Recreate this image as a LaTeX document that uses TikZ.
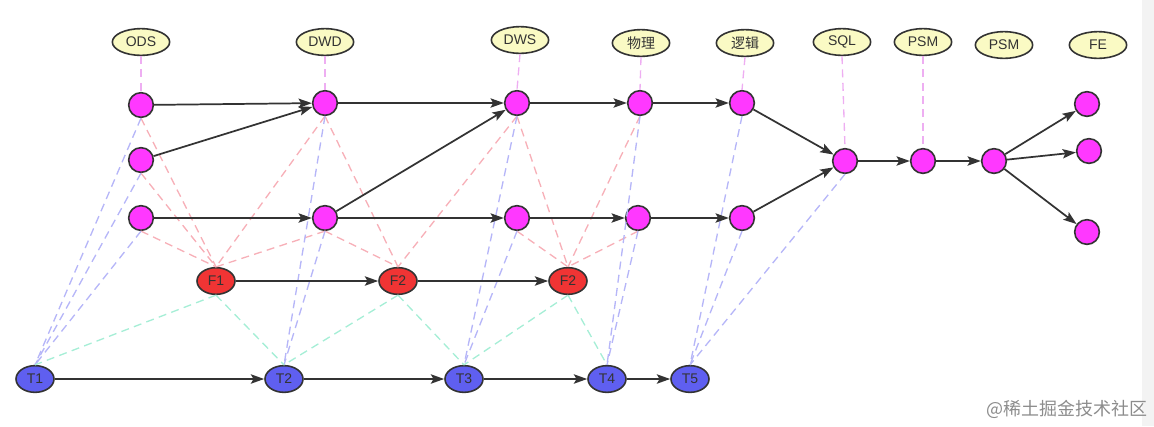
\documentclass[tikz,border=0pt]{standalone}
\usepackage{fontspec}
\setmainfont{Liberation Sans}
\newfontfamily\cjk{Noto Sans CJK SC}
\usetikzlibrary{arrows.meta,shapes.geometric}
\definecolor{tagyellow}{HTML}{FAFAC4}
\definecolor{dotpink}{HTML}{FF38FF}
\definecolor{fred}{HTML}{F03434}
\definecolor{tblue}{HTML}{5F5FF0}
\definecolor{inkgray}{HTML}{333333}
\definecolor{tagline}{HTML}{EEAEF2}
\definecolor{fline}{HTML}{F7B0B8}
\definecolor{tline}{HTML}{B6B6F8}
\definecolor{gline}{HTML}{A6EED6}
\definecolor{sidegray}{HTML}{F3F3F3}
\tikzset{
  tagnode/.style={ellipse,draw=inkgray,line width=1.2pt,fill=tagyellow,text=inkgray,
    minimum width=43pt,minimum height=20pt,inner sep=0pt,font=\fontsize{10.5}{12}\selectfont},
  dotnode/.style={circle,draw=inkgray,line width=1.2pt,fill=dotpink,minimum size=18.5pt,inner sep=0pt},
  fnode/.style={ellipse,draw=inkgray,line width=1.2pt,fill=fred,text=inkgray,
    minimum width=28.5pt,minimum height=20pt,inner sep=0pt,font=\fontsize{10.5}{12}\selectfont},
  tnode/.style={fnode,fill=tblue},
  flow/.style={draw=inkgray,line width=1.3pt,-{Stealth[length=10pt,width=7pt,inset=2pt]}},
  taglink/.style={draw=tagline,line width=1pt,dash pattern=on 6pt off 4pt},
  flink/.style={taglink,draw=fline},
  tlink/.style={taglink,draw=tline},
  glink/.style={taglink,draw=gline}
}
\begin{document}
\begin{tikzpicture}[x=0.75pt,y=-0.75pt]
  \useasboundingbox (0,0) rectangle (1154,426);
  \fill[sidegray] (1142,0) rectangle (1154,426);% side bar
  % layer tags
  \node[tagnode] (ods) at (141,42) {ODS};
  \node[tagnode] (dwd) at (325,42) {DWD};
  \node[tagnode] (dws) at (520,40) {DWS};
  \node[tagnode] (wl) at (641,43) {\cjk 物理};
  \node[tagnode] (lj) at (745,43) {\cjk 逻辑};
  \node[tagnode] (sql) at (842,42) {SQL};
  \node[tagnode] (psma) at (923,42) {PSM};
  \node[tagnode] (psmb) at (1004,45) {PSM};
  \node[tagnode] (fe) at (1098,45) {FE};
  % tables
  \node[dotnode] (a1) at (141,105) {};
  \node[dotnode] (a2) at (141,160) {};
  \node[dotnode] (a3) at (141,218) {};
  \node[dotnode] (b1) at (325,103) {};
  \node[dotnode] (b2) at (325,218) {};
  \node[dotnode] (c1) at (517,103) {};
  \node[dotnode] (c2) at (517,218) {};
  \node[dotnode] (d1) at (640,103) {};
  \node[dotnode] (d2) at (638,218) {};
  \node[dotnode] (e1) at (742,103) {};
  \node[dotnode] (e2) at (742,218) {};
  \node[dotnode] (s) at (845,161) {};
  \node[dotnode] (p1) at (923,161) {};
  \node[dotnode] (p2) at (994,161) {};
  \node[dotnode] (g1) at (1087,104) {};
  \node[dotnode] (g2) at (1089,151) {};
  \node[dotnode] (g3) at (1087,232) {};
  % F and T rows
  \node[fnode] (f1) at (216,281) {F1};
  \node[fnode] (f2) at (398,281) {F2};
  \node[fnode] (f3) at (568,281) {F2};
  \node[tnode] (t1) at (35,379) {T1};
  \node[tnode] (t2) at (284,379) {T2};
  \node[tnode] (t3) at (464,379) {T3};
  \node[tnode] (t4) at (607,379) {T4};
  \node[tnode] (t5) at (690,379) {T5};
  % dashed links
  \foreach \u/\v in {ods/a1,dwd/b1,dws/c1,wl/d1,lj/e1,sql/s,psma/p1}
    \draw[taglink] (\u.south) -- (\v.north);
  \foreach \u in {a1,a2,a3,b1,b2} \draw[flink] (\u.south) -- (f1.north);
  \foreach \u in {b1,b2,c1} \draw[flink] (\u.south) -- (f2.north);
  \foreach \u in {c1,c2,d1,d2} \draw[flink] (\u.south) -- (f3.north);
  \foreach \u/\v in {a1/t1,a2/t1,a3/t1,b1/t2,b2/t2,c1/t3,c2/t3,d1/t4,d2/t4,e1/t5,e2/t5,s/t5}
    \draw[tlink] (\u.south) -- (\v.north);
  \foreach \u/\v in {f1/t1,f1/t2,f2/t2,f2/t3,f3/t3,f3/t4}
    \draw[glink] (\u.south) -- (\v.north);
  % data flow
  \foreach \u/\v in {a1/b1,a2/b1,a3/b2,b1/c1,b2/c1,b2/c2,c1/d1,c2/d2,d1/e1,d2/e2,
      e1/s,e2/s,s/p1,p1/p2,p2/g1,p2/g2,p2/g3,f1/f2,f2/f3,t1/t2,t2/t3,t3/t4,t4/t5}
    \draw[flow] (\u) -- (\v);
  \node[text=black!45,font=\cjk\fontsize{13.5}{15}\selectfont] (mark) at (1067,409) {@稀土掘金技术社区};
\end{tikzpicture}
\end{document}
